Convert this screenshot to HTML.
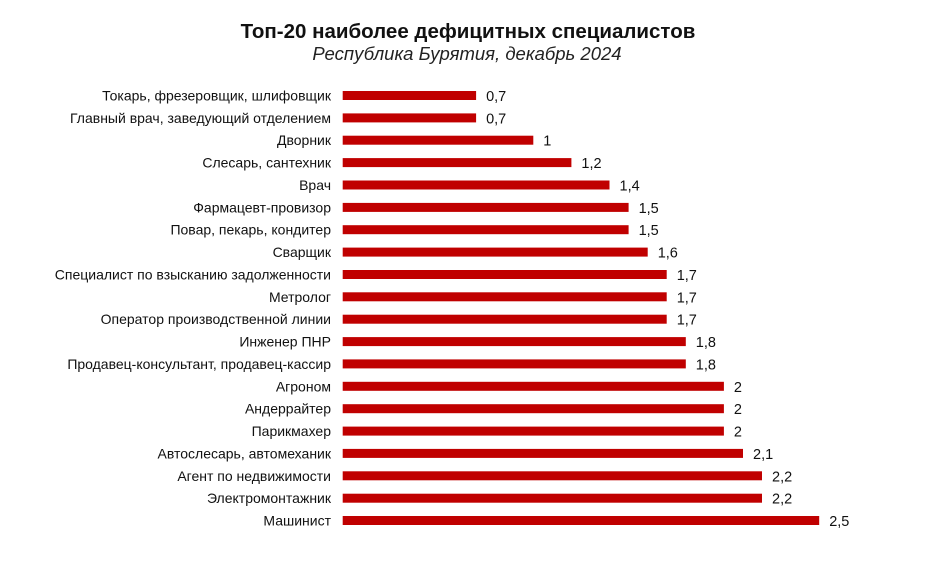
<!DOCTYPE html>
<html><head><meta charset="utf-8"><style>
body{margin:0;background:#fff;}
svg{display:block;font-family:"Liberation Sans",sans-serif;}
.l{font-size:14px;fill:#111;text-anchor:end}
.v{font-size:14.5px;fill:#111}
.b{fill:#c00000}
</style></head><body>
<svg width="935" height="578" xmlns="http://www.w3.org/2000/svg">
<rect width="935" height="578" fill="#fff"/>
<text x="468" y="38" text-anchor="middle" font-size="20.5" font-weight="bold" fill="#111">Топ-20 наиболее дефицитных специалистов</text>
<text x="467" y="60" text-anchor="middle" font-size="18.5" font-style="italic" fill="#222">Республика Бурятия, декабрь 2024</text>

<rect class="b" x="342.7" y="91" width="133.4" height="9"/><text class="l" x="331" y="100.5">Токарь, фрезеровщик, шлифовщик</text><text class="v" x="486.1" y="101">0,7</text>
<rect class="b" x="342.7" y="113.4" width="133.4" height="9"/><text class="l" x="331" y="122.9">Главный врач, заведующий отделением</text><text class="v" x="486.1" y="123.4">0,7</text>
<rect class="b" x="342.7" y="135.7" width="190.6" height="9"/><text class="l" x="331" y="145.2">Дворник</text><text class="v" x="543.3" y="145.7">1</text>
<rect class="b" x="342.7" y="158.1" width="228.7" height="9"/><text class="l" x="331" y="167.6">Слесарь, сантехник</text><text class="v" x="581.4" y="168.1">1,2</text>
<rect class="b" x="342.7" y="180.5" width="266.8" height="9"/><text class="l" x="331" y="190">Врач</text><text class="v" x="619.5" y="190.5">1,4</text>
<rect class="b" x="342.7" y="202.9" width="285.9" height="9"/><text class="l" x="331" y="212.4">Фармацевт-провизор</text><text class="v" x="638.6" y="212.9">1,5</text>
<rect class="b" x="342.7" y="225.2" width="285.9" height="9"/><text class="l" x="331" y="234.7">Повар, пекарь, кондитер</text><text class="v" x="638.6" y="235.2">1,5</text>
<rect class="b" x="342.7" y="247.6" width="305" height="9"/><text class="l" x="331" y="257.1">Сварщик</text><text class="v" x="657.7" y="257.6">1,6</text>
<rect class="b" x="342.7" y="270" width="324" height="9"/><text class="l" x="331" y="279.5">Специалист по взысканию задолженности</text><text class="v" x="676.7" y="280">1,7</text>
<rect class="b" x="342.7" y="292.3" width="324" height="9"/><text class="l" x="331" y="301.8">Метролог</text><text class="v" x="676.7" y="302.3">1,7</text>
<rect class="b" x="342.7" y="314.7" width="324" height="9"/><text class="l" x="331" y="324.2">Оператор производственной линии</text><text class="v" x="676.7" y="324.7">1,7</text>
<rect class="b" x="342.7" y="337.1" width="343.1" height="9"/><text class="l" x="331" y="346.6">Инженер ПНР</text><text class="v" x="695.8" y="347.1">1,8</text>
<rect class="b" x="342.7" y="359.4" width="343.1" height="9"/><text class="l" x="331" y="368.9">Продавец-консультант, продавец-кассир</text><text class="v" x="695.8" y="369.4">1,8</text>
<rect class="b" x="342.7" y="381.8" width="381.2" height="9"/><text class="l" x="331" y="391.3">Агроном</text><text class="v" x="733.9" y="391.8">2</text>
<rect class="b" x="342.7" y="404.2" width="381.2" height="9"/><text class="l" x="331" y="413.7">Андеррайтер</text><text class="v" x="733.9" y="414.2">2</text>
<rect class="b" x="342.7" y="426.6" width="381.2" height="9"/><text class="l" x="331" y="436.1">Парикмахер</text><text class="v" x="733.9" y="436.6">2</text>
<rect class="b" x="342.7" y="448.9" width="400.3" height="9"/><text class="l" x="331" y="458.4">Автослесарь, автомеханик</text><text class="v" x="753" y="458.9">2,1</text>
<rect class="b" x="342.7" y="471.3" width="419.3" height="9"/><text class="l" x="331" y="480.8">Агент по недвижимости</text><text class="v" x="772" y="481.3">2,2</text>
<rect class="b" x="342.7" y="493.7" width="419.3" height="9"/><text class="l" x="331" y="503.2">Электромонтажник</text><text class="v" x="772" y="503.7">2,2</text>
<rect class="b" x="342.7" y="516" width="476.5" height="9"/><text class="l" x="331" y="525.5">Машинист</text><text class="v" x="829.2" y="526">2,5</text>
</svg>
</body></html>
